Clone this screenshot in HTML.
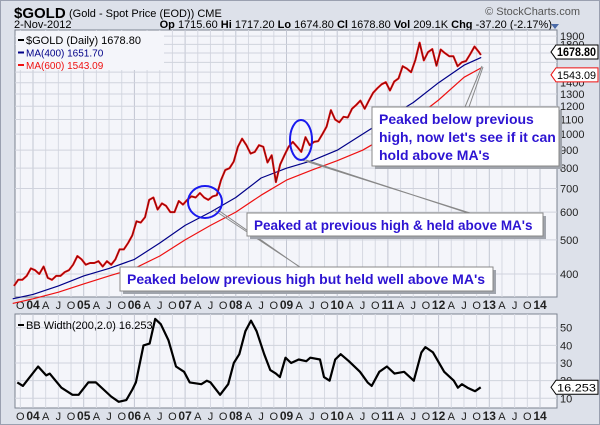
<!DOCTYPE html>
<html><head><meta charset="utf-8"><style>
body{margin:0;background:#fff}
svg{display:block;font-family:"Liberation Sans",sans-serif}
</style></head><body>
<svg id="c" width="600" height="425" xmlns="http://www.w3.org/2000/svg">
<rect x="0" y="0" width="600" height="425" fill="#dde1ea"/>
<rect x="0.5" y="0.5" width="599" height="424" fill="none" stroke="#9aa0b0"/>
<text x="14" y="18" font-size="15" font-weight="bold" fill="#000">$GOLD</text>
<text x="69" y="17" font-size="11" fill="#000">(Gold - Spot Price (EOD)) CME</text>
<text x="580" y="15" font-size="11" fill="#555" text-anchor="end">© StockCharts.com</text>
<text x="14" y="28" font-size="11" fill="#000">2-Nov-2012</text>
<text x="552" y="28" font-size="11" fill="#000" text-anchor="end"><tspan font-weight="bold">Op</tspan> 1715.60 <tspan font-weight="bold">Hi</tspan> 1717.20 <tspan font-weight="bold">Lo</tspan> 1674.80 <tspan font-weight="bold">Cl</tspan> 1678.80 <tspan font-weight="bold">Vol</tspan> 209.1K <tspan font-weight="bold">Chg</tspan> -37.20 (-2.17%)</text>
<path d="M551 24 L559 24 L555 29 Z" fill="#4a6aa8"/>
<g id="main"></g>
<g id="lower"></g>
<g id="ann"></g>
</svg>
<script>
// ---- data ----
const priceStart = 2003.625; // Aug 2003, monthly values
const priceValues = [370,385,385,395,415,
410,400,420,390,385,395,395,405,410,425,450,440,
425,430,430,435,420,435,425,440,470,470,490,515,
565,560,580,650,660,610,635,625,600,600,645,630,
650,665,660,680,660,650,665,670,740,790,800,835,
920,970,930,880,890,930,920,830,870,730,820,870,
920,950,920,890,980,930,950,955,1000,1050,1170,1100,
1080,1120,1115,1180,1210,1245,1180,1245,1310,1350,1385,1405,
1330,1410,1440,1560,1535,1500,1625,1820,1620,1710,1745,1565,
1740,1700,1665,1665,1560,1600,1615,1690,1775,1715,1679];
const maTimes = [2003.6,2004.0,2004.5,2005.0,2005.5,2006.0,2006.5,2007.0,2007.5,2008.0,2008.5,2009.0,2009.5,2010.0,2010.5,2011.0,2011.5,2012.0,2012.5,2012.84];
const ma400 = [340,350,370,395,415,440,490,550,600,660,750,800,840,900,1000,1110,1230,1400,1570,1652];
const ma600 = [330,340,355,375,395,415,450,500,550,600,670,740,790,840,900,990,1100,1250,1450,1543];
const priceTicks = [400,500,600,700,800,900,1000,1100,1200,1300,1400,1500,1600,1700,1800,1900];
const bbTimes = [2003.69,2003.80,2004.10,2004.26,2004.33,2004.56,2004.78,2004.90,2005.09,2005.24,2005.54,2005.69,2005.84,2005.96,2006.03,2006.18,2006.30,2006.41,2006.52,2006.67,2006.82,2006.98,2007.09,2007.32,2007.43,2007.50,2007.69,2007.85,2007.96,2008.07,2008.19,2008.30,2008.41,2008.56,2008.68,2008.79,2008.87,2008.98,2009.09,2009.24,2009.39,2009.47,2009.66,2009.74,2009.85,2009.96,2010.07,2010.23,2010.45,2010.60,2010.68,2010.83,2010.98,2011.13,2011.32,2011.51,2011.66,2011.74,2011.89,2012.11,2012.30,2012.38,2012.46,2012.57,2012.72,2012.83];
const bbValues = [19,17,28,23,24,16,12,12,19,19,11,8,9,15,19,40,41,55,52,43,28,25,19,18,20,19,12,18,30,35,48,54,48,35,26,24,22,33,30,32,31,33,32,22,20,32,35,31,25,19,17,25,28,24,25,20,36,39,36,25,20,16,18,16,14,16.25];
const bbTicks = [10,20,30,40,50];
const xTickLabels = ['O','04','A','J','O','05','A','J','O','06','A','J','O','07','A','J','O','08','A','J','O','09','A','J','O','10','A','J','O','11','A','J','O','12','A','J','O','13','A','J','O','14'];

// ---- geometry ----
const NS='http://www.w3.org/2000/svg';
const L=15,R=557, MT=30,MB=297, LT=314,LB=408;
const x=t=>33+50.7*(t-2004);
const yP=p=>274-152.7*Math.log(p/400);
const yB=v=>398.3-(v-10)*1.765;
function mk(parent,tag,attrs,txt){const e=document.createElementNS(NS,tag);for(const k in attrs)e.setAttribute(k,attrs[k]);if(txt!==undefined)e.textContent=txt;parent.appendChild(e);return e;}
const main=document.getElementById('main'), lower=document.getElementById('lower'), ann=document.getElementById('ann');

function panel(g,top,bot,name){
  const r=mk(g,'rect',{x:L,y:top,width:R-L,height:bot-top,fill:'#f4f5fa',stroke:'#7c8290'});
  
  
  for(let i=0;i<xTickLabels.length;i++){
    const t=2003.75+i*0.25; const xx=x(t);
    if(xx<L||xx>R) continue;
    const gl=mk(g,'line',{x1:xx,x2:xx,y1:top,y2:bot,stroke:xTickLabels[i].length>1?'#c2c6d2':'#d6d9e2','stroke-width':1});
    
    
    const lb=mk(g,'text',{x:xx,y:bot+12,'font-size':xTickLabels[i].length>1?12:11,'font-weight':xTickLabels[i].length>1?'bold':'normal','text-anchor':'middle',fill:'#222'},xTickLabels[i]);
    
    
  }
}
panel(main,MT,MB,'price-panel');
panel(lower,LT,LB,'bb-panel');

for(const p of priceTicks){
  const yy=yP(p);
  const gl=mk(main,'line',{x1:L,x2:R,y1:yy,y2:yy,stroke:'#d0d3dd'});
  
  
  if(p===1500||p===1600||p===1700) continue;
  const t=mk(main,'text',{x:560,y:yy+4,'font-size':11,fill:'#222'},String(p));
  
  
}
for(const v of bbTicks){
  const yy=yB(v);
  const gl=mk(lower,'line',{x1:L,x2:R,y1:yy,y2:yy,stroke:'#d0d3dd'});
  
  
  const t=mk(lower,'text',{x:560,y:yy+4,'font-size':11,fill:'#222'},String(v));
  
  
}

function poly(g,ts,vs,yf,st,w,name){
  const d=ts.map((t,i)=>(i?'L':'M')+x(t).toFixed(1)+' '+yf(vs[i]).toFixed(1)).join(' ');
  const p=mk(g,'path',{d:d,fill:'none',stroke:st,'stroke-width':w,'stroke-linejoin':'round'});
  
  
}
const pTimes=priceValues.map((v,i)=>priceStart+i/12+ (i===priceValues.length-1?-0.04:0));
poly(main,maTimes,ma600,yP,'#ee1111',1.2,'ma600-line');
poly(main,maTimes,ma400,yP,'#000088',1.2,'ma400-line');
poly(main,pTimes,priceValues,yP,'#ee0000',2,'price-line');
poly(main,pTimes,priceValues,yP,'#222',0.5,'price-line-dark');
poly(lower,bbTimes,bbValues,yB,'#000',2.2,'bb-width-line');

// legends
const lg=[['$GOLD (Daily) 1678.80','#000'],['MA(400) 1651.70','#000088'],['MA(600) 1543.09','#ee1111']];
const lgbg=mk(main,'rect',{x:L+1,y:MT+1,width:148,height:39,fill:'#f4f5fa'});


lg.forEach((e,i)=>{
  const yy=MT+10+i*12.5;
  const ln=mk(main,'line',{x1:18,x2:24,y1:yy,y2:yy,stroke:e[1],'stroke-width':2});
  
  
  const t=mk(main,'text',{x:26,y:yy+4,'font-size':i?10:11,fill:e[1]},e[0]);
  
  
});
const bl=mk(lower,'line',{x1:18,x2:24,y1:LT+11,y2:LT+11,stroke:'#000','stroke-width':2});


const bt=mk(lower,'text',{x:26,y:LT+15,'font-size':11,fill:'#000'},'BB Width(200,2.0) 16.253');



// value tags
function tag(g,yy,txt,col,bold,name){
  const p=mk(g,'path',{d:`M551 ${yy} L556 ${yy-7} L598 ${yy-7} L598 ${yy+7} L556 ${yy+7} Z`,fill:'#fff',stroke:col});
  
  
  const t=mk(g,'text',{x:557,y:yy+4,'font-size':bold?11.5:11,'font-weight':bold?'bold':'normal',fill:'#000',textLength:39,lengthAdjust:'spacingAndGlyphs'},txt);
  
  
}
tag(main,yP(1543.09)+7,'1543.09','#ee1111',false,'ma600-value-tag');
tag(main,yP(1678.80)-3,'1678.80','#000',true,'price-value-tag');
tag(lower,yB(16.253),'16.253','#000',false,'bb-value-tag');

// annotations
function line(x1,y1,x2,y2,name){
  const a=mk(ann,'path',{d:`M${x1} ${y1} L${x2} ${y2} M${x1+4} ${y1} L${x2+1} ${y2+1}`,stroke:'#888',fill:'none','stroke-width':1});
  
  
}
line(465,107,482,66,'callout-pointer-1');
line(302,160,470,213,'callout-pointer-2');
line(214,210,300,267,'callout-pointer-3');
function ell(cx,cy,rx,ry,name){
  const e=mk(ann,'ellipse',{cx:cx,cy:cy,rx:rx,ry:ry,fill:'none',stroke:'#1a1aee','stroke-width':2});
  
  
}
ell(205,202,17,16,'highlight-ellipse-2007');
ell(301,140,11,20,'highlight-ellipse-2009');
function box(x0,y0,w,h,lines,fs,name){
  const s=mk(ann,'rect',{x:x0+3,y:y0+3,width:w,height:h,fill:'#a0a4ac'});
  
  
  const r=mk(ann,'rect',{x:x0,y:y0,width:w,height:h,fill:'#fff',stroke:'#888'});
  
  
  lines.forEach((l,i)=>{
    const t=mk(ann,'text',{x:x0+7,y:y0+17+i*18,'font-size':fs,'font-weight':'bold',fill:'#2d14d2'},l);
    
    
  });
}
box(372,107,187,59,['Peaked below previous','high, now let\'s see if it can','hold above MA\'s'],14,'callout-box-2012');
box(247,213,296,23,['Peaked at previous high & held above MA\'s'],13.5,'callout-box-2009');
box(120,267,373,24,['Peaked below previous high but held well above MA\'s'],14,'callout-box-2007');
</script>
</body></html>
